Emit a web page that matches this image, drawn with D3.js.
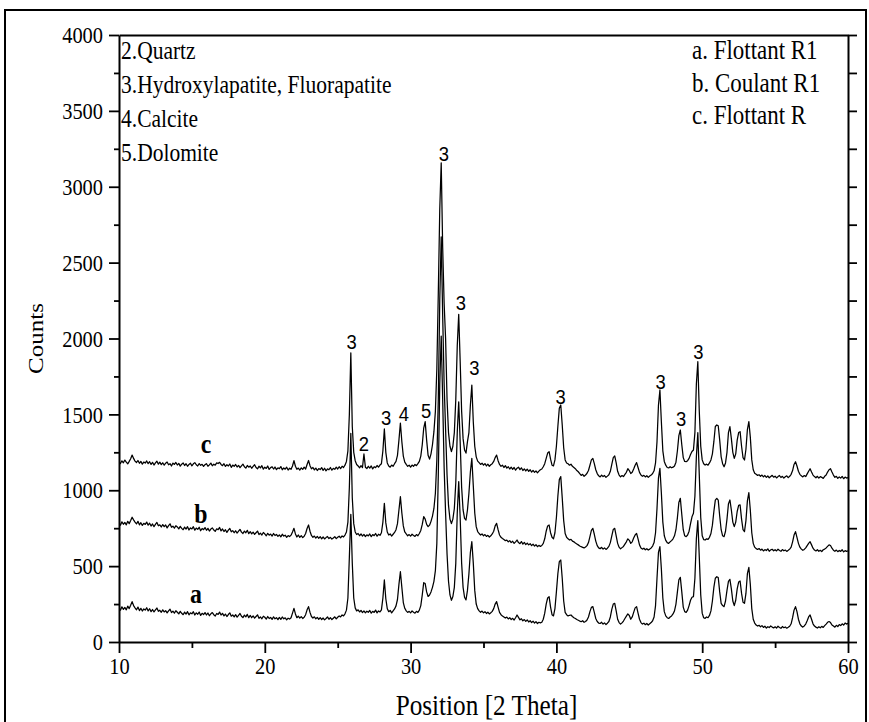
<!DOCTYPE html>
<html><head><meta charset="utf-8">
<script src="https://cdn.jsdelivr.net/npm/d3@7"></script>
<style>body{margin:0;background:#fff}</style></head>
<body><svg id="chart" width="869" height="722"></svg>
<script>
// scan grid: start angle and step (degrees 2-theta)
const xStart = 10, xStep = 0.1;
// Counts, one value per 0.1 deg from 10 to 60
const traceA = [
225,210,232,215,228,212,236,220,242,266,
240,225,212,230,207,222,204,218,210,226,
205,219,200,214,198,211,224,202,209,196,
212,198,207,192,205,216,194,203,190,206,
196,185,202,189,180,197,184,200,179,192,
186,200,178,192,183,197,175,189,181,194,
178,191,173,186,194,180,171,188,182,197,
178,189,172,184,168,181,192,170,178,165,
180,164,176,188,170,161,177,166,182,160,
175,160,172,157,168,179,156,165,153,170,
163,151,168,155,162,149,166,153,160,147,
162,149,165,153,159,146,157,151,160,190,
222,185,160,170,158,167,155,163,180,212,
233,195,168,158,166,153,162,150,160,148,
158,146,155,165,150,160,148,157,166,152,
163,172,165,178,172,186,210,290,560,841,
520,290,225,205,212,198,208,194,205,192,
203,196,208,190,202,195,210,192,205,198,
212,290,409,285,220,200,208,192,205,218,
238,280,380,463,360,260,222,205,195,202,
192,205,196,190,202,195,210,240,310,391,
385,330,300,310,330,360,400,470,650,1100,
1700,2016,1600,1150,850,580,400,310,275,300,
360,520,850,1057,820,520,360,295,277,340,
450,590,661,520,340,250,220,205,196,204,
192,200,188,196,185,193,202,220,250,266,
230,195,180,172,165,158,164,152,160,148,
156,145,160,178,162,146,153,140,148,136,
145,132,140,128,137,125,134,122,130,126,
130,150,190,250,290,299,230,180,172,220,
330,450,530,540,420,270,195,180,172,176,
178,168,160,155,148,143,138,134,140,130,
135,145,165,200,228,233,195,155,135,125,
122,130,118,126,115,124,135,165,215,250,
255,205,150,128,118,126,138,155,170,185,
175,150,165,195,225,233,190,150,128,118,
124,114,122,112,120,128,140,165,240,420,
590,628,480,290,200,172,160,155,165,172,
185,205,250,330,410,426,330,230,200,195,
210,240,275,295,299,420,680,800,560,310,
190,160,156,165,160,175,205,270,360,420,
430,425,330,255,240,233,270,340,400,413,
350,270,240,275,350,395,402,320,262,255,
320,450,492,380,220,150,125,112,105,110,
100,108,96,104,92,101,95,106,98,93,
100,92,104,96,90,102,94,99,91,97,
104,120,160,210,233,200,150,120,105,98,
106,118,140,165,178,150,120,105,98,92,
100,94,103,96,108,118,130,135,128,112,
105,98,110,102,115,108,120,112,125,118,
123];
const traceB = [
785,770,792,776,788,772,795,780,800,822,
805,790,778,795,772,786,768,782,775,790,
770,783,764,778,760,775,788,766,772,758,
774,760,771,752,767,779,756,763,750,766,
758,745,762,749,740,757,744,760,738,752,
745,760,737,751,742,756,733,748,740,754,
736,749,731,744,752,738,729,746,740,755,
732,745,728,740,722,737,748,726,734,720,
733,718,730,742,724,715,731,720,736,714,
727,712,724,709,720,731,708,717,705,722,
712,700,716,704,711,698,715,702,709,696,
706,693,710,698,704,690,701,695,704,725,
749,712,692,705,690,701,688,697,715,748,
771,730,702,690,698,685,696,683,694,680,
692,679,688,695,682,690,678,686,694,681,
690,697,686,699,692,705,725,790,1020,1375,
950,780,725,708,715,700,712,698,709,695,
706,699,712,694,708,701,715,697,710,703,
720,790,914,785,725,705,712,698,710,722,
740,780,870,958,850,765,725,712,700,708,
698,710,702,696,708,700,715,735,775,826,
810,775,760,770,795,830,880,980,1200,1600,
2250,2670,2150,1700,1400,1100,900,810,780,810,
880,1050,1380,1583,1320,1020,870,815,804,870,
980,1120,1210,1030,850,760,728,715,705,712,
700,708,696,703,692,700,712,730,765,782,
740,705,690,682,675,668,672,660,668,655,
664,650,660,672,655,648,662,645,656,642,
652,640,648,635,645,632,641,628,637,630,
636,650,680,730,765,771,720,690,680,720,
820,960,1070,1090,950,800,715,690,680,672,
676,665,660,652,646,640,633,628,624,620,
626,635,655,695,735,749,710,665,635,620,
615,624,612,620,610,618,630,655,700,742,
749,700,650,625,614,622,630,645,660,680,
670,650,660,685,705,716,680,640,620,612,
618,608,615,606,612,620,632,655,720,880,
1080,1144,980,790,700,670,655,650,660,668,
680,700,740,820,920,947,840,740,700,694,
705,730,780,825,848,960,1220,1379,1100,820,
700,675,672,680,676,690,715,770,860,935,
947,935,830,740,700,694,730,810,910,936,
870,790,760,790,860,900,903,810,740,727,
800,930,984,870,720,650,625,615,610,616,
605,612,600,609,603,614,598,607,611,601,
608,600,612,603,598,609,601,606,597,604,
612,625,660,705,727,690,650,625,612,604,
610,620,635,650,661,640,618,606,600,608,
598,604,596,608,612,620,630,640,636,618,
605,598,606,595,603,597,608,594,602,597,
600];
const traceC = [
1188,1176,1194,1181,1199,1185,1174,1190,1208,1232,
1210,1192,1183,1196,1178,1190,1172,1186,1179,1193,
1175,1188,1170,1184,1166,1180,1191,1172,1185,1169,
1181,1165,1178,1186,1168,1175,1160,1179,1170,1183,
1166,1177,1159,1172,1180,1163,1175,1158,1170,1178,
1161,1174,1182,1168,1160,1176,1164,1171,1157,1169,
1175,1158,1167,1179,1161,1172,1165,1180,1176,1184,
1170,1162,1175,1157,1168,1160,1173,1151,1166,1158,
1170,1153,1164,1149,1161,1172,1155,1146,1163,1152,
1160,1145,1157,1168,1150,1141,1158,1147,1162,1139,
1152,1144,1160,1137,1149,1155,1140,1153,1136,1148,
1142,1156,1135,1147,1139,1152,1133,1145,1138,1160,
1195,1158,1138,1146,1133,1148,1137,1152,1140,1170,
1196,1162,1141,1150,1134,1146,1130,1143,1136,1149,
1131,1145,1128,1141,1135,1150,1132,1144,1138,1152,
1140,1155,1143,1158,1150,1165,1190,1260,1500,1906,
1420,1250,1195,1170,1160,1148,1162,1150,1239,1152,
1143,1158,1146,1160,1141,1155,1149,1163,1152,1166,
1175,1260,1404,1250,1180,1160,1152,1166,1158,1175,
1190,1230,1330,1443,1320,1225,1185,1170,1158,1165,
1152,1166,1158,1170,1162,1175,1190,1225,1300,1410,
1452,1330,1230,1205,1240,1300,1386,1520,1800,2300,
2850,3158,2600,2230,2000,1600,1380,1290,1255,1290,
1380,1600,1950,2159,1850,1520,1340,1265,1245,1320,
1380,1560,1693,1450,1290,1220,1192,1182,1170,1178,
1165,1176,1160,1172,1158,1168,1175,1190,1215,1232,
1195,1170,1158,1165,1150,1162,1146,1155,1140,1152,
1138,1150,1132,1145,1152,1136,1148,1130,1141,1127,
1139,1124,1135,1120,1131,1118,1128,1115,1126,1135,
1140,1155,1175,1210,1245,1254,1205,1165,1160,1200,
1290,1420,1540,1562,1430,1280,1200,1180,1175,1165,
1172,1158,1150,1142,1130,1122,1110,1098,1105,1092,
1100,1112,1130,1165,1200,1210,1175,1135,1110,1095,
1088,1100,1090,1097,1085,1093,1102,1125,1170,1215,
1226,1180,1125,1100,1088,1097,1090,1105,1118,1142,
1130,1110,1118,1140,1165,1182,1150,1118,1100,1092,
1098,1088,1096,1085,1094,1100,1110,1128,1180,1320,
1560,1661,1450,1260,1190,1165,1150,1147,1155,1148,
1152,1160,1185,1260,1360,1397,1300,1215,1190,1188,
1195,1210,1235,1255,1265,1380,1700,1847,1520,1290,
1200,1175,1166,1172,1165,1180,1200,1240,1320,1420,
1430,1425,1330,1220,1175,1155,1180,1250,1380,1419,
1340,1250,1210,1240,1330,1380,1386,1290,1215,1199,
1270,1400,1452,1350,1200,1135,1112,1105,1098,1102,
1092,1100,1088,1097,1085,1094,1082,1091,1098,1086,
1093,1081,1090,1097,1084,1092,1080,1089,1095,1083,
1092,1105,1130,1170,1188,1160,1125,1105,1095,1088,
1097,1090,1108,1125,1142,1120,1100,1090,1082,1092,
1080,1090,1085,1078,1092,1100,1120,1135,1142,1120,
1100,1085,1092,1078,1088,1080,1091,1076,1087,1080,
1083];

const xTicks = [10, 20, 30, 40, 50, 60];
const xMinorTicks = [15, 25, 35, 45, 55];
const yTicks = [0, 500, 1000, 1500, 2000, 2500, 3000, 3500, 4000];
const yMinorTicks = [250, 750, 1250, 1750, 2250, 2750, 3250, 3750];
const yRightTicks = [0,250,500,750,1000,1250,1500,1750,2000,2250,2500,2750,3000,3250,3500,3750,4000];
const xTitle = "Position [2 Theta]";
const yTitle = "Counts";
const phaseLegend = ["2.Quartz", "3.Hydroxylapatite, Fluorapatite", "4.Calcite", "5.Dolomite"];
const sampleLegend = ["a. Flottant R1", "b. Coulant R1", "c. Flottant R"];
// peak annotations (label, 2-theta, counts at label centre)
const peakLabels = [
  ["3", 25.96, 1979], ["2", 26.80, 1309], ["3", 28.32, 1478], ["4", 29.53, 1507],
  ["5", 31.06, 1522], ["3", 32.29, 3220], ["3", 33.44, 2232], ["3", 34.37, 1804],
  ["3", 40.29, 1616], ["3", 47.15, 1715], ["3", 48.55, 1474], ["3", 49.73, 1913]
];
// series letters (label, 2-theta, counts at baseline)
const seriesLabels = [["c", 15.97, 1245], ["b", 15.62, 784], ["a", 15.28, 257]];

const svg = d3.select("#chart");
const L = 119, R = 848, T = 35, B = 642;
const x = d3.scaleLinear().domain([10, 60]).range([L, R]);
const y = d3.scaleLinear().domain([0, 4000]).range([B, T]);
const serif = "'Liberation Serif','Times New Roman',serif";
const sans = "'Liberation Sans',Arial,sans-serif";

function squeeze(sel, f) {
  sel.each(function () {
    const w = this.getComputedTextLength();
    this.setAttribute("textLength", w * f);
    this.setAttribute("lengthAdjust", "spacingAndGlyphs");
  });
}

// outer frame
svg.append("rect").attr("x", 5).attr("y", 10).attr("width", 861).attr("height", 740)
  .attr("fill", "none").attr("stroke", "#000").attr("stroke-width", 2);

// traces
svg.append("clipPath").attr("id", "clip").append("rect")
  .attr("x", L).attr("y", T).attr("width", R - L).attr("height", B - T);
const line = d3.line().x((d, i) => x(xStart + i * xStep)).y(d => y(d));
[traceA, traceB, traceC].forEach(t => {
  svg.append("path").attr("d", line(t)).attr("fill", "none").attr("stroke", "#000")
    .attr("stroke-width", 1.25).attr("stroke-linejoin", "round").attr("clip-path", "url(#clip)");
});

function styleAxis(g, w) {
  g.select(".domain").attr("stroke-width", 2);
  g.selectAll(".tick line").attr("stroke-width", w);
}
const fmt = d3.format("d");
// left axis
const gL = svg.append("g").attr("transform", `translate(${L},0)`)
  .call(d3.axisLeft(y).tickValues(yTicks).tickFormat(fmt).tickSize(10).tickPadding(6).tickSizeOuter(0));
styleAxis(gL, 1.8);
gL.selectAll("text").attr("font-family", serif).attr("font-size", 24).attr("fill", "#000");
squeeze(gL.selectAll("text"), 0.85);
const gLm = svg.append("g").attr("transform", `translate(${L},0)`)
  .call(d3.axisLeft(y).tickValues(yMinorTicks).tickSize(5).tickFormat(""));
gLm.select(".domain").remove(); gLm.selectAll(".tick line").attr("stroke-width", 1.8);

// bottom axis
const gB = svg.append("g").attr("transform", `translate(0,${B})`)
  .call(d3.axisBottom(x).tickValues(xTicks).tickFormat(fmt).tickSize(11).tickPadding(4).tickSizeOuter(0));
styleAxis(gB, 1.8);
gB.selectAll("text").attr("font-family", serif).attr("font-size", 24).attr("fill", "#000");
squeeze(gB.selectAll("text"), 0.85);
const gBm = svg.append("g").attr("transform", `translate(0,${B})`)
  .call(d3.axisBottom(x).tickValues(xMinorTicks).tickSize(6).tickFormat(""));
gBm.select(".domain").remove(); gBm.selectAll(".tick line").attr("stroke-width", 1.8);

// right axis
const gR = svg.append("g").attr("transform", `translate(${R},0)`)
  .call(d3.axisRight(y).tickValues(yRightTicks).tickSize(9).tickFormat("").tickSizeOuter(0));
styleAxis(gR, 1.8);

// top axis
const gT = svg.append("g").attr("transform", `translate(0,${T})`)
  .call(d3.axisTop(x).tickValues([]).tickSizeOuter(0));
styleAxis(gT, 1.8);

// axis titles
const xt = svg.append("text").attr("x", (L + R) / 2 + 3).attr("y", 715).attr("text-anchor", "middle")
  .attr("font-family", serif).attr("font-size", 29).text(xTitle);
squeeze(xt, 0.87);
svg.append("text").attr("transform", `translate(43,${(T + B) / 2}) rotate(-90) scale(1,0.88)`)
  .attr("text-anchor", "middle").attr("font-family", serif).attr("font-size", 25).text(yTitle);

// phase legend (top-left)
const pl = svg.append("g").selectAll("text").data(phaseLegend).join("text")
  .attr("x", 121).attr("y", (d, i) => 59 + i * 34)
  .attr("font-family", serif).attr("font-size", 25).text(d => d);
squeeze(pl, 0.86);
// sample legend (top-right)
const sl = svg.append("g").selectAll("text").data(sampleLegend).join("text")
  .attr("x", 692).attr("y", (d, i) => 59 + i * 32.5)
  .attr("font-family", serif).attr("font-size", 27).text(d => d);
squeeze(sl, 0.85);

// peak labels
const pk = svg.append("g").selectAll("text").data(peakLabels).join("text")
  .attr("x", d => x(d[1])).attr("y", d => y(d[2])).attr("dy", "0.36em")
  .attr("text-anchor", "middle").attr("font-family", sans).attr("font-size", 20).text(d => d[0]);
squeeze(pk, 0.92);

// series letters
const sr = svg.append("g").selectAll("text").data(seriesLabels).join("text")
  .attr("x", d => x(d[1])).attr("y", d => y(d[2])).attr("text-anchor", "middle")
  .attr("font-family", serif).attr("font-weight", "bold").attr("font-size", 28).text(d => d[0]);
squeeze(sr, 0.85);
</script></body></html>
